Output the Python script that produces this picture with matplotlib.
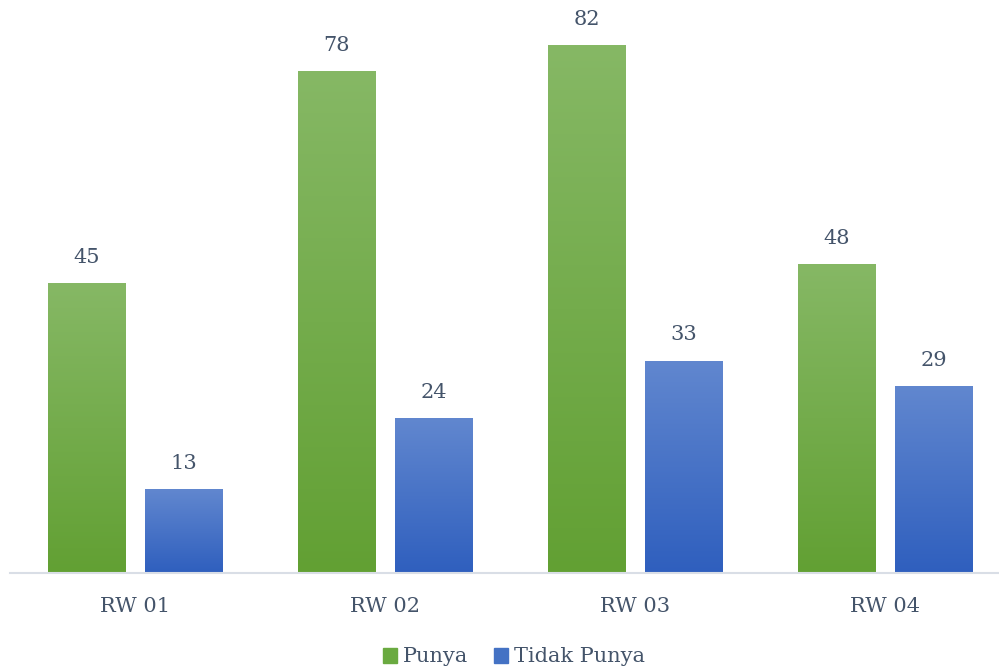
import numpy as np
import matplotlib.pyplot as plt
from matplotlib.colors import LinearSegmentedColormap
from matplotlib.patches import Patch

categories = ["RW 01", "RW 02", "RW 03", "RW 04"]
punya = [45, 78, 82, 48]
tidak_punya = [13, 24, 33, 29]

text_color = "#44546A"
plt.rcParams['font.family'] = ['DejaVu Serif']

green = LinearSegmentedColormap.from_list("g", ["#62A033", "#86B865"])
blue = LinearSegmentedColormap.from_list("b", ["#2F5FBE", "#6187CF"])

fig = plt.figure(figsize=(9.99, 6.70), dpi=100)
ax = fig.add_axes([10 / 999, 1 - 573 / 670, 989 / 999, 573 / 670])

x = np.arange(len(categories))
off = 0.194
w = 0.312


def grad_bars(xs, vals, cmap):
    bars = ax.bar(xs, vals, width=w, color="none", edgecolor="none")
    grad = np.linspace(0, 1, 256).reshape(-1, 1)
    for b in bars:
        x0, y0 = b.get_x(), b.get_y()
        im = ax.imshow(grad, cmap=cmap, aspect="auto", origin="lower",
                       extent=[x0, x0 + b.get_width(), y0, y0 + b.get_height()],
                       zorder=2)
        im.set_clip_path(b)
    for xi, v in zip(xs, vals):
        ax.text(xi, v + 2.5, str(v), ha="center", va="bottom",
                fontsize=15, color=text_color)
    return bars


grad_bars(x - off, punya, green)
grad_bars(x + off, tidak_punya, blue)

ax.set_xlim(-0.5, -0.5 + 989 / 250)
ax.set_ylim(0, 89)
for s in ["top", "right", "left"]:
    ax.spines[s].set_visible(False)
ax.spines["bottom"].set_color("#D9DEE6")
ax.spines["bottom"].set_linewidth(1.5)
ax.set_yticks([])
ax.set_xticks(x)
ax.set_xticklabels(categories, fontsize=15, color=text_color)
ax.tick_params(axis="x", length=0, pad=17)

handles = [Patch(color="#6AAA40", label="Punya"),
           Patch(color="#4472C4", label="Tidak Punya")]
fig.legend(handles=handles, loc="center", bbox_to_anchor=(514 / 999, 1 - 657 / 670),
           ncol=2, frameon=False, fontsize=15, labelcolor=text_color,
           handlelength=0.7, handleheight=0.7, handletextpad=0.3, columnspacing=1.2)

fig.savefig("out.png", dpi=100)
